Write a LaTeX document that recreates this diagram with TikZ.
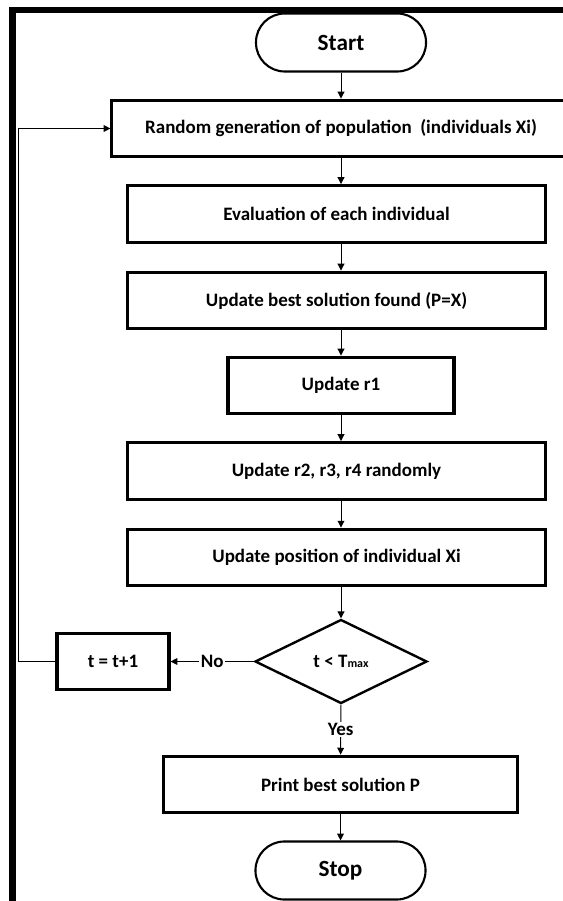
\documentclass[tikz,border=0pt]{standalone}
\usepackage{fontspec}
\setmainfont{Carlito}
\usetikzlibrary{arrows.meta, shapes.geometric}

\tikzset{
  terminal/.style={draw, line width=1.5pt, rounded corners=0.72cm, inner sep=0pt,
    minimum width=4.25cm, minimum height=1.45cm, font=\bfseries\fontsize{16.5}{18}\selectfont},
  process/.style={draw, line width=2.2pt, inner sep=0pt, minimum height=1.42cm},
  decision/.style={draw, diamond, line width=1.7pt, inner sep=0pt, aspect=2,
    minimum width=4.3cm, minimum height=2.1cm},
  flow/.style={line width=0.7pt, -{Triangle[length=1.7mm, width=1.7mm]}},
  answer/.style={fill=white, inner sep=1pt}
}

\begin{document}
\begin{tikzpicture}[x=0.025cm, y=-0.025cm, font=\bfseries\fontsize{13.5}{15}\selectfont]
    \useasboundingbox (0,0) rectangle (563,901);
    \draw[line width=4.3pt] (12.5,901) -- (12.5,10) -- (563,10);

    \node[terminal] (start) at (341,42.5) {Start};
    \node[process, minimum width=11.45cm] (gen) at (341,128.5) {Random generation of population\ \ (individuals Xi)};
    \node[process, minimum width=10.45cm] (eval) at (336.5,214) {Evaluation of each individual};
    \node[process, minimum width=10.45cm] (best) at (336.5,300.5) {Update best solution found (P=X)};
    \node[process, minimum width=5.65cm] (rone) at (341,385.5) {Update r1};
    \node[process, minimum width=10.45cm] (rrest) at (336.5,471) {Update r2, r3, r4 randomly};
    \node[process, minimum width=10.45cm] (pos) at (336.5,557.5) {Update position of individual Xi};
    \node[decision] (test) at (341,661.5) {t < T{\fontsize{8.5}{9}\selectfont max}};
    \node[process, minimum width=2.8cm] (incr) at (113,661.5) {t = t+1};
    \node[process, minimum width=8.85cm] (print) at (340.5,784.5) {Print best solution P};
    \node[terminal] (stop) at (340.5,870.5) {Stop};
    \coordinate (loop) at (18,661.5);

    \draw[flow] (start) -- (gen);
    \draw[flow] (gen.south) -- (gen.south |- eval.north);
    \draw[flow] (gen.south |- eval.south) -- (gen.south |- best.north);
    \draw[flow] (gen.south |- best.south) -- (rone);
    \draw[flow] (rone) -- (rone.south |- rrest.north);
    \draw[flow] (rone.south |- rrest.south) -- (rone.south |- pos.north);
    \draw[flow] (rone.south |- pos.south) -- (test);
    \draw[flow] (test) -- node[answer] {No} (incr);
    \draw[flow] (test) -- node[answer, pos=0.5] {Yes} (print);
    \draw[flow] (print) -- (stop);
    \draw[flow] (incr.west) -- (loop) |- (gen.west);
\end{tikzpicture}
\end{document}
